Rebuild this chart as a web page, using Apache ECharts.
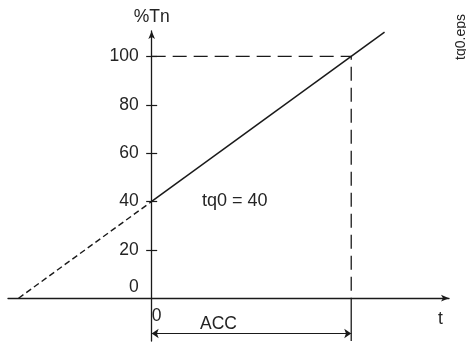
<!DOCTYPE html>
<html>
<head>
<meta charset="utf-8">
<script src="https://cdn.jsdelivr.net/npm/echarts@6/dist/echarts.min.js"></script>
<style>
  html, body { margin: 0; padding: 0; background: #fff; }
  #chart { width: 466px; height: 344px; }
</style>
</head>
<body>
<div id="chart"></div>
<script>
// torque (%Tn) against time, ACC ramp normalised to 100
const tq0 = 40;
const accEnd = 100;
const rampT = [0, 116.7];
const rampTorque = [40, 110];
const extrapT = [-66.7, 0];
const extrapTorque = [0, 40];
const yLabels = [0, 20, 40, 60, 80, 100];
const yTicks = [20, 40, 60, 80, 100];
const xLabels = [0];
const accLevel = -14.6;

const INK = "#1a1a1a";
const TXT = "#242424";
const FONT = "Liberation Sans, Arial, sans-serif";
const FS = 17.5;

const X_MIN = -72, X_MAX = 149;
const Y_MIN = -17.7, Y_MAX = 110.5;
const GRID = { left: 8, right: 17, top: 31, bottom: 3 };
const W = 466, H = 344;
// axes cross at (0, 0): shift them in from the grid edges
const plotW = W - GRID.left - GRID.right;
const plotH = H - GRID.top - GRID.bottom;
const yShift = -((0 - X_MIN) / (X_MAX - X_MIN)) * plotW;
const xShift = -((0 - Y_MIN) / (Y_MAX - Y_MIN)) * plotH;

const chart = echarts.init(document.getElementById("chart"));

const yBase = {
  type: "value",
  min: Y_MIN,
  max: Y_MAX,
  position: "left",
  offset: yShift,
  splitLine: { show: false },
};

chart.setOption({
  animation: false,
  grid: Object.assign({ outerBoundsMode: "none", containLabel: false }, GRID),
  xAxis: {
    type: "value",
    min: X_MIN,
    max: X_MAX,
    position: "bottom",
    offset: xShift,
    axisLine: {
      onZero: false,
      symbol: ["none", "arrow"],
      symbolSize: [5, 8],
      lineStyle: { color: INK, width: 1.3 },
    },
    axisTick: { show: false },
    splitLine: { show: false },
    axisLabel: {
      customValues: xLabels,
      align: "left",
      verticalAlign: "top",
      margin: 9,
      fontSize: FS,
      fontFamily: FONT,
      color: TXT,
    },
  },
  yAxis: [
    Object.assign({}, yBase, {
      name: "%Tn",
      nameLocation: "end",
      nameGap: 5,
      nameTextStyle: { fontSize: FS, fontFamily: FONT, color: TXT },
      axisLine: {
        onZero: false,
        symbol: ["none", "arrow"],
        symbolSize: [5, 8],
        lineStyle: { color: INK, width: 1.3 },
      },
      axisTick: {
        customValues: yTicks,
        length: 5.5,
        lineStyle: { color: INK, width: 1.2 },
      },
      axisLabel: {
        customValues: yLabels,
        margin: 13,
        fontSize: FS,
        fontFamily: FONT,
        color: TXT,
        formatter: (v) => (v === 0 ? "{lift|0}" : String(v)),
        rich: {
          lift: { fontSize: FS, fontFamily: FONT, color: TXT, padding: [0, 0, 22, 0] },
        },
      },
    }),
    Object.assign({}, yBase, {
      axisLine: { show: false, onZero: false },
      axisTick: {
        customValues: yTicks,
        inside: true,
        length: 5.5,
        lineStyle: { color: INK, width: 1.2 },
      },
      axisLabel: { show: false },
    }),
  ],
  series: [
    {
      type: "line",
      data: rampT.map((t, i) => [t, rampTorque[i]]),
      symbol: "none",
      lineStyle: { color: INK, width: 1.5 },
    },
    {
      type: "line",
      data: extrapT.map((t, i) => [t, extrapTorque[i]]),
      symbol: "none",
      lineStyle: { color: INK, width: 1.4, type: [6, 3.5] },
    },
    {
      type: "line",
      data: [[0, 100], [accEnd, 100], [accEnd, 0]],
      symbol: "none",
      lineStyle: { color: INK, width: 1.3, type: [14, 7] },
    },
    {
      type: "line",
      data: [[accEnd, 0], [accEnd, Y_MIN]],
      symbol: "none",
      lineStyle: { color: INK, width: 1.3 },
      markLine: {
        silent: true,
        symbol: ["arrow", "arrow"],
        symbolSize: 7,
        label: { show: false },
        lineStyle: { color: INK, width: 1.2, type: "solid" },
        data: [[{ coord: [0, accLevel] }, { coord: [accEnd, accLevel] }]],
      },
    },
  ],
  graphic: [
    {
      type: "text",
      left: 202,
      top: 192,
      style: { text: "tq0 = " + tq0, fontSize: 18, fontFamily: FONT, fill: TXT },
    },
    {
      type: "text",
      left: 200,
      top: 315,
      style: { text: "ACC", fontSize: FS, fontFamily: FONT, fill: TXT },
    },
    {
      type: "text",
      left: 438,
      top: 310,
      style: { text: "t", fontSize: FS, fontFamily: FONT, fill: TXT },
    },
    {
      type: "text",
      x: 461,
      y: 37,
      rotation: Math.PI / 2,
      style: {
        text: "tq0.eps",
        fontSize: 14,
        fontFamily: FONT,
        fill: TXT,
        align: "center",
        verticalAlign: "middle",
      },
    },
  ],
});
</script>
</body>
</html>
